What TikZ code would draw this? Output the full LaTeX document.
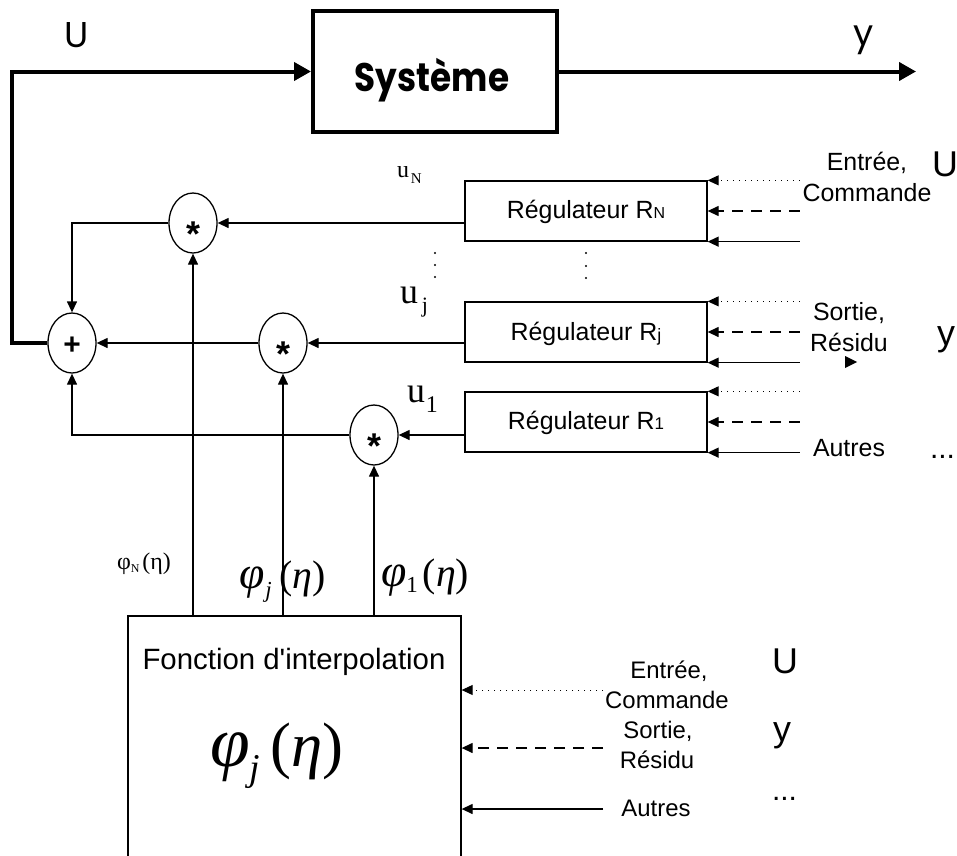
\documentclass[tikz,border=0pt]{standalone}
\usepackage{fontspec}
\usepackage{graphicx}
\setmainfont{Liberation Sans}
\newfontfamily\tmsf{Liberation Serif}
\newfontfamily\cmcf{Poppins}
\usetikzlibrary{arrows.meta,shapes.geometric}
\newcommand\sqt{{\XeTeXglyph\XeTeXcharglyph"27\relax}}
\newcommand\fs[1]{\fontsize{#1}{#1}\selectfont}
\begin{document}
\begin{tikzpicture}[x=1bp,y=-1bp,
  thin/.style={line width=1.3bp},
  tip/.style={-{Triangle[length=11bp,width=10bp]}},
  arr/.style={thin,tip},
  thk/.style={line width=4bp},
  tarr/.style={thk,-{Triangle[length=17bp,width=18bp]}},
  dotarr/.style={line width=1bp,dash pattern=on 1bp off 5bp,tip},
  dasharr/.style={thin,dash pattern=on 11bp off 8bp,tip},
  ell/.style={ellipse,draw,thin,minimum width=48bp,minimum height=60bp,inner sep=0pt},
  rbox/.style={rectangle,draw,thin,minimum width=242bp,minimum height=60bp,inner sep=0pt},
  lbl/.style={inner sep=0pt,outer sep=0pt},
  dot/.style={circle,fill,inner sep=0pt,minimum size=2.4bp},
]
\useasboundingbox (0,0) rectangle (957,856);
\clip (0,0) rectangle (957,856);

% --- system and main loop
\node[draw,thk,minimum width=244bp,minimum height=121bp,inner sep=0pt] (sys) at (435,71.5) {};
\node[lbl,anchor=base] (tSys) at (432,91) {\cmcf\bfseries\fs{40}\scalebox{0.86}[1]{Système}};
\node[lbl,anchor=base] (tU) at (77,47) {\cmcf\fs{36}U};
\node[lbl,anchor=base] (ty) at (864,45) {\cmcf\fs{36}y};
\coordinate (yout) at (916,71.5);
\coordinate (lk) at (12,71.5);

% --- summation and multipliers
\node[ell] (plus) at (72,343) {\smash{\raisebox{-11bp}{\fs{30}\bfseries +}}};
\node[ell] (mN) at (193,223) {\smash{\raisebox{-23bp}{\fs{36}\bfseries *}}};
\node[ell] (mj) at (283,343) {\smash{\raisebox{-23bp}{\fs{36}\bfseries *}}};
\node[ell] (m1) at (374,435) {\smash{\raisebox{-23bp}{\fs{36}\bfseries *}}};

% --- regulators
\node[rbox] (RN) at (586,211) {};
\node[rbox] (Rj) at (586,332) {};
\node[rbox] (R1) at (586,422) {};
\node[lbl,anchor=base] (tRN) at (586,218) {\fs{25}Régulateur R{\fs{16}N}};
\node[lbl,anchor=base] (tRj) at (586,340) {\fs{25}Régulateur R{\fs{18}\raisebox{-1bp}{j}}};
\node[lbl,anchor=base] (tR1) at (586,429) {\fs{25}Régulateur R{\fs{17}1}};

% --- interpolation function
\node[rectangle,draw,thin,minimum width=333bp,minimum height=284bp,inner sep=0pt] (F) at (294.5,758) {};
\node[lbl,anchor=base] (tF) at (294,669) {\fs{29.5}Fonction d\sqt interpolation};
\node[lbl,anchor=base west] (phiBig) at (210,766) {\tmsf\itshape{\fs{72}φ}\raisebox{-14bp}{\fs{38}j}\kern10bp{\fs{63}\upshape(\itshape η\upshape)}};

% --- signal labels
\node[lbl,anchor=base west] (uN) at (397,177) {\tmsf\fs{24}u\kern2bp\raisebox{-6bp}{\fs{15}N}};
\node[lbl,anchor=base west] (uj) at (400,303) {\tmsf\fs{36}u\kern4bp\raisebox{-9bp}{\fs{22}j}};
\node[lbl,anchor=base west] (u1) at (407,402) {\tmsf\fs{36}u\kern1bp\raisebox{-10bp}{\fs{24}1}};
\node[lbl,anchor=base west] (phN) at (117,569) {\tmsf\fs{24}φ\raisebox{-3bp}{\fs{12}N}\kern3bp(η)};
\node[lbl,anchor=base west] (phj) at (239,588) {\tmsf\itshape{\fs{46}φ}\kern1bp\raisebox{-9bp}{\fs{23}j}\kern8bp{\fs{40}\upshape(\itshape η\upshape)}};
\node[lbl,anchor=base west] (ph1) at (381,586) {\tmsf\itshape{\fs{46}φ}\upshape\raisebox{-6bp}{\fs{23}1}\kern5bp{\fs{40}(\itshape η\upshape)}};

% --- dots
\node[dot] (da1) at (435,253) {};
\node[dot] (da2) at (435,265) {};
\node[dot] (da3) at (435,277) {};
\node[dot] (db1) at (586,253) {};
\node[dot] (db2) at (586,266) {};
\node[dot] (db3) at (586,278) {};

% --- right labels (regulators)
\node[lbl,anchor=base] (rE) at (867,170) {\fs{25}Entrée,};
\node[lbl,anchor=base] (rC) at (867,201) {\fs{25}Commande};
\node[lbl,anchor=base west] (rU) at (932,176) {\fs{36}U};
\node[lbl,anchor=base] (rS) at (849,320) {\fs{25}Sortie,};
\node[lbl,anchor=base] (rR) at (849,351) {\fs{25}Résidu};
\node[lbl,anchor=base west] (ry) at (937,345) {\fs{36}y};
\node[lbl,anchor=base] (rA) at (849,456) {\fs{25}Autres};
\node[lbl,anchor=base west] (rD) at (930,458) {\fs{30}...};
\fill (845,356) -- (857,362) -- (845,368) -- cycle;

% --- bottom labels
\node[lbl,anchor=base] (bE) at (669,678) {\fs{24}Entrée,};
\node[lbl,anchor=base] (bC) at (667,708) {\fs{24}Commande};
\node[lbl,anchor=base] (bS) at (658,738) {\fs{24}Sortie,};
\node[lbl,anchor=base] (bR) at (657,768) {\fs{24}Résidu};
\node[lbl,anchor=base] (bA) at (656,816) {\fs{24}Autres};
\node[lbl,anchor=base west] (bU) at (772,673) {\fs{36}U};
\node[lbl,anchor=base west] (by) at (773,741) {\fs{36}y};
\node[lbl,anchor=base west] (bD) at (772,800) {\fs{30}...};
\coordinate (cE) at (603,690);
\coordinate (cS) at (603,748);
\coordinate (cA) at (603,809);

% --- connectors
\draw[tarr] (plus.west) -| (lk) -- (sys.west);
\draw[tarr] (sys.east) -- (yout);

\draw[arr] (RN.west |- mN) -- (mN);
\draw[arr] (Rj.west |- mj) -- (mj);
\draw[arr] (R1.west |- m1) -- (m1);

\draw[arr] (mN.west) -| (plus.north);
\draw[arr] (mj.west) -- (plus.east);
\draw[arr] (m1.west) -| (plus.south);

\draw[arr] (F.north -| mN) -- (mN.south);
\draw[arr] (F.north -| mj) -- (mj.south);
\draw[arr] (F.north -| m1) -- (m1.south);

\foreach \r in {RN,Rj,R1} {
  \draw[dotarr] ([xshift=92bp]\r.north east) -- (\r.north east);
  \draw[dasharr] ([xshift=92bp]\r.east) -- (\r.east);
  \draw[arr] ([xshift=92bp]\r.south east) -- (\r.south east);
}

\draw[dotarr] (cE) -- (cE -| F.east);
\draw[dasharr] (cS) -- (cS -| F.east);
\draw[arr] (cA) -- (cA -| F.east);
\end{tikzpicture}
\end{document}
